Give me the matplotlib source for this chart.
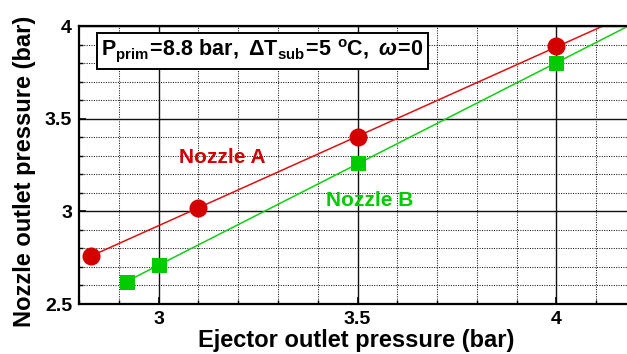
import numpy as np
import matplotlib
matplotlib.use("Agg")
import matplotlib.pyplot as plt
from matplotlib.ticker import MultipleLocator, FixedLocator

plt.rcParams['font.family'] = ['Liberation Sans', 'DejaVu Sans']
plt.rcParams['font.weight'] = 'bold'
plt.rcParams['mathtext.fontset'] = 'custom'
plt.rcParams['mathtext.rm'] = 'Liberation Sans'
plt.rcParams['mathtext.bf'] = 'Liberation Sans:bold'
plt.rcParams['mathtext.it'] = 'Liberation Sans:italic'

# Nozzle A: ejector outlet pressure vs nozzle outlet pressure (bar)
ejector_a = [2.83, 3.10, 3.50, 4.00]
nozzle_a = [2.76, 3.02, 3.40, 3.89]
# Nozzle B
ejector_b = [2.92, 3.00, 3.50, 4.00]
nozzle_b = [2.62, 2.71, 3.26, 3.80]

x_ticks = [3.0, 3.5, 4.0]
y_ticks = [2.5, 3.0, 3.5, 4.0]

W, H = 627, 354
fig = plt.figure(figsize=(W / 100, H / 100), dpi=100)
ax = fig.add_axes([79 / W, (H - 304) / H, (636 - 79) / W, (304 - 26) / H])

ax.set_xlim(2.8, 4.2)
ax.set_ylim(2.5, 4.0)
ax.xaxis.set_major_locator(FixedLocator(x_ticks))
ax.yaxis.set_major_locator(FixedLocator(y_ticks))
ax.xaxis.set_minor_locator(MultipleLocator(0.1))
ax.yaxis.set_minor_locator(MultipleLocator(0.1))
ax.set_xticklabels(['3', '3.5', '4'])
ax.set_yticklabels(['2.5', '3', '3.5', '4'])

ax.grid(which='major', color='#111111', linewidth=1.0, linestyle='-', zorder=0)
ax.grid(which='minor', color='#1a1a1a', linewidth=0.75, linestyle=(0, (1, 1.3)),
        zorder=0)
ax.set_axisbelow(True)

ax.tick_params(which='major', direction='in', length=5, width=1.2,
               labelsize=14, pad=5, top=False, right=False)
ax.tick_params(which='minor', direction='in', length=3, width=1.0,
               top=False, right=False)
for lbl in ax.get_xticklabels() + ax.get_yticklabels():
    lbl.set_fontweight('bold')

for side in ['left', 'bottom', 'top', 'right']:
    ax.spines[side].set_linewidth(1.6)
    ax.spines[side].set_color('black')

red = '#D40000'
green = '#00CC00'

# Linear fits through each data set, extended to the right edge
for xs, ys, lcol in [(ejector_a, nozzle_a, '#E01010'),
                     (ejector_b, nozzle_b, '#10D010')]:
    k, b = np.polyfit(xs, ys, 1)
    xf = np.array([min(xs), 4.2])
    ax.plot(xf, k * xf + b, color=lcol, linewidth=1.1, zorder=2)

ax.plot(ejector_a, nozzle_a, 'o', color=red, markersize=13, markeredgewidth=0, zorder=3)
ax.plot(ejector_b, nozzle_b, 's', color=green, markersize=10.8, markeredgewidth=0, zorder=3)

ax.text(3.16, 3.29, 'Nozzle A', color=red, fontsize=15, fontweight='bold',
        ha='center', va='center')
ax.text(3.53, 3.06, 'Nozzle B', color=green, fontsize=15, fontweight='bold',
        ha='center', va='center')

ax.text(2.856, 3.865,
        r'$\mathbf{P_{prim}\!=\!8.8\ bar,\ \Delta T_{sub}\!=\!5\ ^oC,}\ '
        r'\omega\mathbf{\!=\!0}$',
        fontsize=15.5, ha='left', va='center', zorder=5,
        bbox=dict(boxstyle='square,pad=0.2', facecolor='white',
                  edgecolor='black', linewidth=1.4))

fig.text(356 / W, 1 - 340 / H, 'Ejector outlet pressure (bar)', fontsize=17,
         fontweight='bold', ha='center', va='center')
fig.text(25 / W, 1 - 171 / H, 'Nozzle outlet pressure (bar)', fontsize=17,
         fontweight='bold', ha='center', va='center', rotation=90)

fig.savefig('out.png', dpi=100)
